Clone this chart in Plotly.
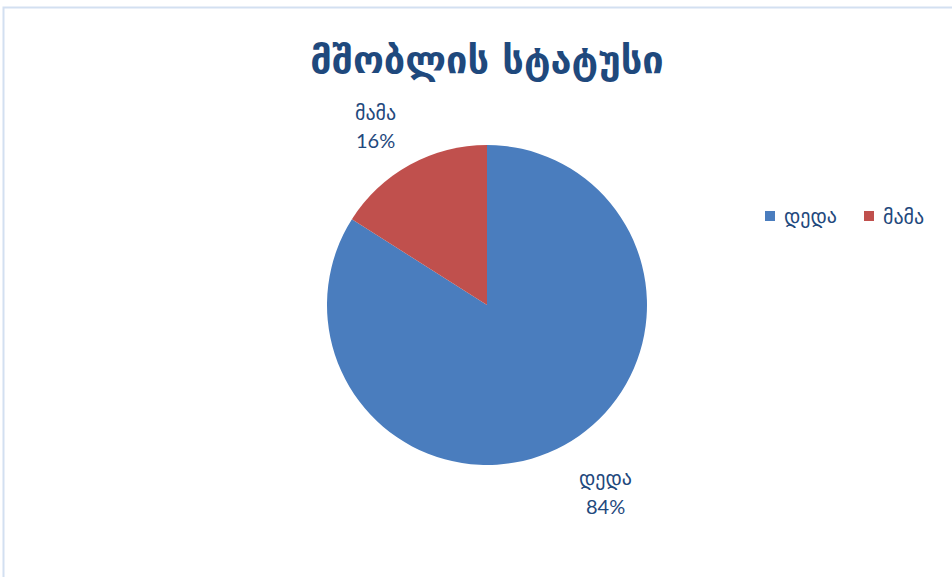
import math
import plotly.graph_objects as go

# Parent status breakdown
categories = ["დედა", "მამა"]
values = [84, 16]
colors = ["#4a7dbe", "#c0504d"]
title_text = "მშობლის სტატუსი"

W, H = 952, 577
text_color = "#1f497d"
label_font = "Lato, DejaVu Sans, sans-serif"

# Pie centre and radius in pixels
cx, cy, r = 487, 305, 160


def px(x):
    return x / W


def py(y):
    return 1 - y / H


fig = go.Figure(
    go.Pie(
        labels=categories,
        values=values,
        sort=False,
        direction="clockwise",
        rotation=0,
        marker=dict(colors=colors, line=dict(color="white", width=0)),
        textinfo="none",
        hoverinfo="label+percent",
        showlegend=False,
        domain=dict(x=[px(cx - r), px(cx + r)], y=[py(cy + r), py(cy - r)]),
    )
)

# Outside data labels: name on one line, percentage below
total = sum(values)
label_pos = [(605, 477), (375, 112)]  # centre of the name line, px
annotations = []
for name, v, (lx, ly) in zip(categories, values, label_pos):
    pct = f"{round(100 * v / total)}%"
    annotations.append(dict(
        x=px(lx), y=py(ly), xref="paper", yref="paper", text=name,
        showarrow=False, xanchor="center", yanchor="middle",
        font=dict(family=label_font, size=20, color=text_color),
    ))
    annotations.append(dict(
        x=px(lx), y=py(ly + 28.5), xref="paper", yref="paper", text=pct,
        showarrow=False, xanchor="center", yanchor="middle",
        font=dict(family=label_font, size=20, color=text_color),
    ))

# Legend: small squares followed by the category names
shapes = []
legend_x = [765, 864]
legend_y = 216
for name, col, lx in zip(categories, colors, legend_x):
    shapes.append(dict(
        type="rect", xref="paper", yref="paper",
        x0=px(lx), x1=px(lx + 10), y0=py(legend_y + 5), y1=py(legend_y - 5),
        fillcolor=col, line=dict(width=0),
    ))
    annotations.append(dict(
        x=px(lx + 17), y=py(legend_y), xref="paper", yref="paper", text=name,
        showarrow=False, xanchor="left", yanchor="middle",
        font=dict(family=label_font, size=20, color=text_color),
    ))

# Chart area border
shapes.append(dict(
    type="rect", xref="paper", yref="paper",
    x0=px(3.5), x1=1.1, y0=-0.1, y1=py(7.5),
    line=dict(color="#d3e0f1", width=2),
    fillcolor="rgba(0,0,0,0)", layer="below",
))

fig.update_layout(
    width=W,
    height=H,
    margin=dict(l=0, r=0, t=0, b=0),
    paper_bgcolor="white",
    plot_bgcolor="white",
    showlegend=False,
    title=dict(
        text="<b>" + title_text + "</b>",
        x=px(cx),
        xanchor="center",
        y=py(60),
        yanchor="middle",
        font=dict(family="DejaVu Sans, sans-serif", size=38, color=text_color),
    ),
    annotations=annotations,
    shapes=shapes,
)

fig.write_html("out.html")
